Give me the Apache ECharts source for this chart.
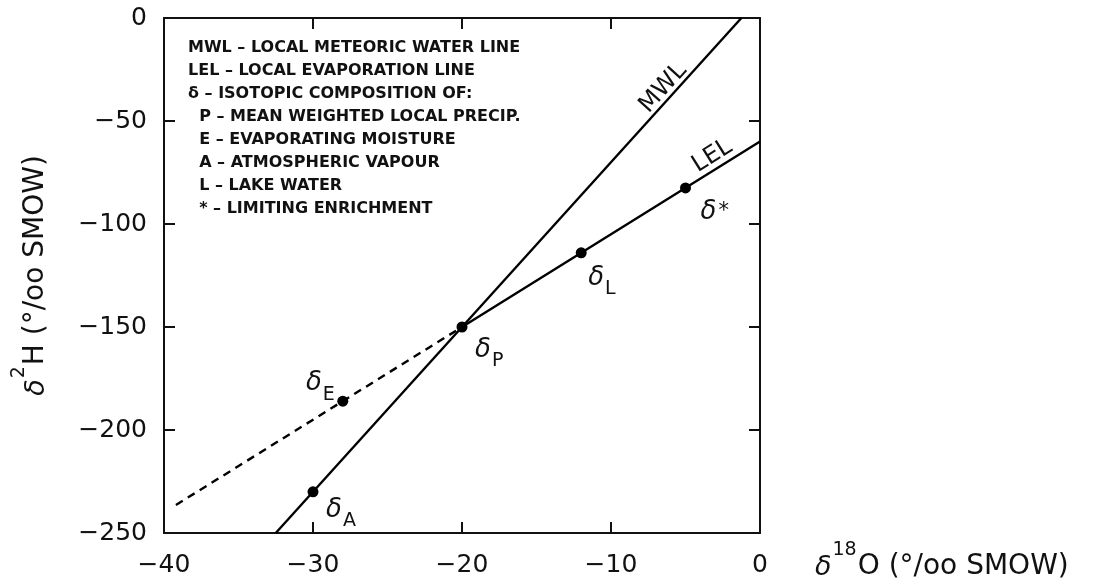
<!DOCTYPE html>
<html>
<head>
<meta charset="utf-8">
<script src="https://cdn.jsdelivr.net/npm/echarts@6/dist/echarts.min.js"></script>
<style>
html,body{margin:0;padding:0;background:#fff;}
#chart{width:1103px;height:581px;}
</style>
</head>
<body>
<div id="chart"></div>
<script>
// ---- data ----
const xTicks = [-40, -30, -20, -10, 0];
const yTicks = [-250, -200, -150, -100, -50, 0];

// Meteoric water line (MWL) endpoints
const mwlX = [-32.5, -1.25];
const mwlY = [-250, 0];
// Local evaporation line (LEL), solid part
const lelX = [-20, 0];
const lelY = [-150, -60];
// LEL extension (dashed) toward evaporating moisture
const lelDashX = [-39.2, -20];
const lelDashY = [-236.4, -150];

// Isotopic composition points
const ptNames = ['P', 'E', 'A', 'L', '*'];
const ptX = [-20, -28, -30, -12, -5];
const ptY = [-150, -186, -230, -114, -82.5];

// Line labels
const lineLabelNames = ['MWL', 'LEL'];
const lineLabelX = [-6.5, -3.2];
const lineLabelY = [-34, -67];

const legendLines = [
  'MWL – LOCAL METEORIC WATER LINE',
  'LEL – LOCAL EVAPORATION LINE',
  'δ – ISOTOPIC COMPOSITION OF:',
  '  P – MEAN WEIGHTED LOCAL PRECIP.',
  '  E – EVAPORATING MOISTURE',
  '  A – ATMOSPHERIC VAPOUR',
  '  L – LAKE WATER',
  '  * – LIMITING ENRICHMENT'
];

// ---- styling ----
const FONT = '"DejaVu Sans", "Liberation Sans", Arial, sans-serif';
const INK = '#111';

const zip = (xs, ys) => xs.map((x, i) => [x, ys[i]]);

// label placement for each point (style, not data)
const ptLabelStyle = {
  'P': {align: 'left', verticalAlign: 'top', offset: [13, 10]},
  'E': {align: 'right', verticalAlign: 'bottom', offset: [-8, 3]},
  'A': {align: 'left', verticalAlign: 'top', offset: [13, 5]},
  'L': {align: 'left', verticalAlign: 'top', offset: [7, 12]},
  '*': {align: 'left', verticalAlign: 'top', offset: [15, 11]}
};
const lineLabelRot = {'MWL': 48, 'LEL': 32};

const richDelta = {
  d: {fontSize: 26, fontFamily: FONT, fontStyle: 'italic', color: INK, opacity: 1, lineHeight: 26, verticalAlign: 'top'},
  s: {fontSize: 19, fontFamily: FONT, color: INK, opacity: 1, lineHeight: 34, verticalAlign: 'bottom', padding: [0, 0, 0, 1]},
  a: {fontSize: 21, fontFamily: FONT, color: INK, opacity: 1, lineHeight: 26, verticalAlign: 'top', padding: [2, 0, 0, 2]}
};

const pointData = ptNames.map((n, i) => ({
  value: [ptX[i], ptY[i]],
  name: n,
  label: Object.assign({show: true, position: 'inside', opacity: 1, color: INK,
    textBorderWidth: 0,
    formatter: n === '*' ? '{d|δ}{a|*}' : '{d|δ}{s|' + n + '}',
    rich: richDelta}, ptLabelStyle[n])
}));

const lineLabelData = lineLabelNames.map((n, i) => ({
  value: [lineLabelX[i], lineLabelY[i]],
  name: n,
  label: {show: true, position: 'inside', formatter: n, rotate: lineLabelRot[n], opacity: 1,
    textBorderWidth: 0,
    fontSize: 24, fontFamily: FONT, color: INK, align: 'center', verticalAlign: 'middle'}
}));

const minusFmt = v => (v < 0 ? '\u2212' + Math.abs(v) : String(v));

const axisCommon = {
  axisLine: {show: true, onZero: false, lineStyle: {color: INK, width: 2}},
  axisTick: {show: true, inside: true, length: 11, lineStyle: {color: INK, width: 2}},
  splitLine: {show: false}
};

const nameRich = {
  d: {fontSize: 27, fontFamily: FONT, fontStyle: 'italic', color: INK, lineHeight: 40, verticalAlign: 'bottom'},
  u: {fontSize: 19, fontFamily: FONT, color: INK, lineHeight: 40, verticalAlign: 'top', padding: [0, 1, 0, 1]},
  n: {fontSize: 28, fontFamily: FONT, color: INK, lineHeight: 40, verticalAlign: 'bottom'}
};

const chart = echarts.init(document.getElementById('chart'), null, {renderer: 'canvas'});
chart.setOption({
  backgroundColor: '#fff',
  animation: false,
  grid: {left: 164, right: 343, top: 18, bottom: 44},
  xAxis: [
    Object.assign({
      type: 'value', min: xTicks[0], max: xTicks[xTicks.length - 1], interval: 10,
      position: 'bottom',
      axisLabel: {fontSize: 25, fontFamily: FONT, color: INK, margin: 20, formatter: minusFmt},
      name: '{d|δ}{u|18}{n|O (°/oo SMOW)}',
      nameLocation: 'end', nameGap: 55,
      nameTextStyle: {align: 'left', verticalAlign: 'top', padding: [8, 0, 0, 0], rich: nameRich}
    }, axisCommon),
    Object.assign({
      type: 'value', min: xTicks[0], max: xTicks[xTicks.length - 1], interval: 10,
      position: 'top', axisLabel: {show: false}
    }, axisCommon)
  ],
  yAxis: [
    Object.assign({
      type: 'value', min: yTicks[0], max: yTicks[yTicks.length - 1], interval: 50,
      position: 'left',
      axisLabel: {fontSize: 25, fontFamily: FONT, color: INK, margin: 17, formatter: minusFmt},
      name: '{d|δ}{u|2}{n|H (°/oo SMOW)}',
      nameLocation: 'middle', nameGap: 114, nameRotate: 90,
      nameTextStyle: {rich: nameRich}
    }, axisCommon),
    Object.assign({
      type: 'value', min: yTicks[0], max: yTicks[yTicks.length - 1], interval: 50,
      position: 'right', axisLabel: {show: false}
    }, axisCommon)
  ],
  series: [
    {type: 'line', name: 'MWL', data: zip(mwlX, mwlY), symbol: 'none',
      lineStyle: {color: '#000', width: 2.4}, z: 3},
    {type: 'line', name: 'LEL', data: zip(lelX, lelY), symbol: 'none',
      lineStyle: {color: '#000', width: 2.4}, z: 3},
    {type: 'line', name: 'LEL extension', data: zip(lelDashX, lelDashY), symbol: 'none',
      lineStyle: {color: '#000', width: 2.4, type: [8, 6]}, z: 3},
    {type: 'scatter', name: 'points', data: pointData, symbol: 'circle', symbolSize: 11,
      itemStyle: {color: '#000', opacity: 1}, z: 5},
    {type: 'scatter', name: 'line labels', data: lineLabelData, symbolSize: 0,
      itemStyle: {color: '#000', opacity: 1}, z: 5}
  ],
  graphic: legendLines.map((t, i) => ({
    type: 'text', left: 188, top: 39.5 + i * 23.1,
    style: {text: t, font: 'bold 16px ' + FONT, fill: INK}
  }))
});
</script>
</body>
</html>
